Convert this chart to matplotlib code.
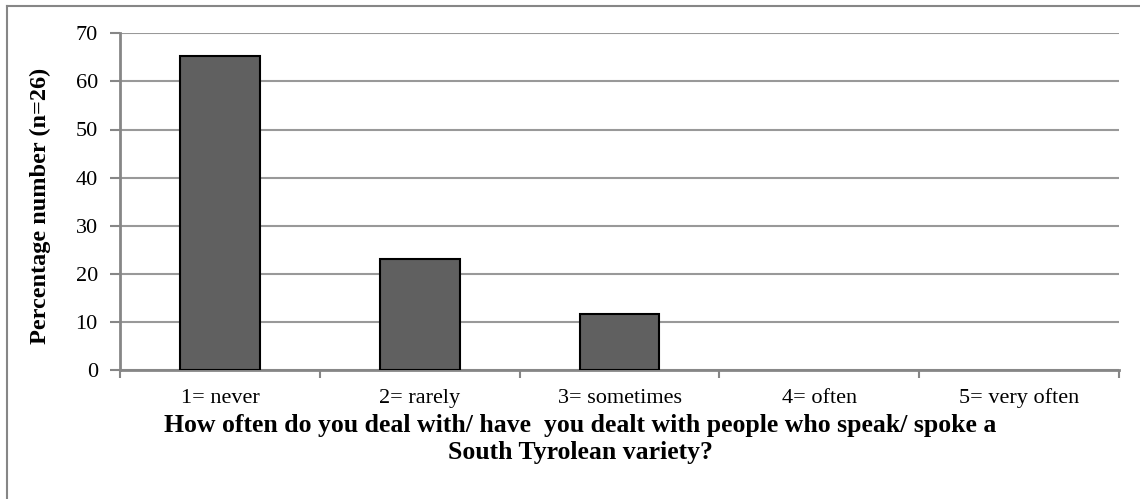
import matplotlib
matplotlib.use("Agg")
import matplotlib.pyplot as plt
from matplotlib.lines import Line2D

categories = ["1= never", "2= rarely", "3= sometimes", "4= often", "5= very often"]
percentages = [65.38, 23.08, 11.54, 0.0, 0.0]
y_ticks = [0, 10, 20, 30, 40, 50, 60, 70]
y_label = "Percentage number (n=26)"
x_label = ("How often do you deal with/ have  you dealt with people who speak/ spoke a\n"
           "South Tyrolean variety?")

plt.rcParams["font.family"] = ["Liberation Serif", "DejaVu Serif"]

W, H = 1140, 499
fig = plt.figure(figsize=(W / 100, H / 100), dpi=100)
ax = fig.add_axes([120 / W, 1 - 370 / H, (1119 - 120) / W, (370 - 33.3) / H])

axis_grey = "#868686"
x = list(range(len(categories)))
edge_widths = [1.5 if v > 0 else 0 for v in percentages]
ax.bar(x, percentages, width=0.40, color="#606060", edgecolor="black",
       linewidth=edge_widths, zorder=3)

ax.set_xlim(-0.5, len(categories) - 0.5)
ax.set_ylim(0, 70)
ax.set_yticks(y_ticks)
ax.set_yticklabels([str(t) for t in y_ticks], fontsize=16)
ax.yaxis.grid(True, color="#999999", linewidth=1.5, zorder=0)
ax.set_axisbelow(True)

# category labels sit between boundary tick marks, on a common baseline
ax.set_xticks([i - 0.5 for i in range(len(categories) + 1)])
ax.set_xticklabels([])
ax.set_xticks(x, minor=True)
ax.set_xticklabels(categories, minor=True, fontsize=16, va="baseline")
ax.tick_params(axis="x", which="minor", length=0, pad=23.5)
ax.tick_params(axis="x", which="major", length=6, width=1.5, color=axis_grey)
ax.tick_params(axis="y", length=7, width=1.5, color=axis_grey, pad=9)

for side in ("top", "right"):
    ax.spines[side].set_visible(False)
for side in ("left", "bottom"):
    ax.spines[side].set_color(axis_grey)
    ax.spines[side].set_linewidth(2)

fig.text(40 / W, 1 - 206 / H, y_label, rotation=90, ha="center", va="center",
         fontsize=17.5, fontweight="bold")
fig.text(580 / W, 1 - 439 / H, x_label, ha="center", va="center",
         fontsize=18.5, fontweight="bold", linespacing=1.2)

# chart-area frame
fig.add_artist(Line2D([7 / W, 7 / W], [0, 1 - 5.5 / H], transform=fig.transFigure,
                      color=axis_grey, linewidth=1.5))
fig.add_artist(Line2D([7 / W, 1], [1 - 5.5 / H, 1 - 5.5 / H], transform=fig.transFigure,
                      color=axis_grey, linewidth=1.5))

fig.savefig("out.png", dpi=100)
